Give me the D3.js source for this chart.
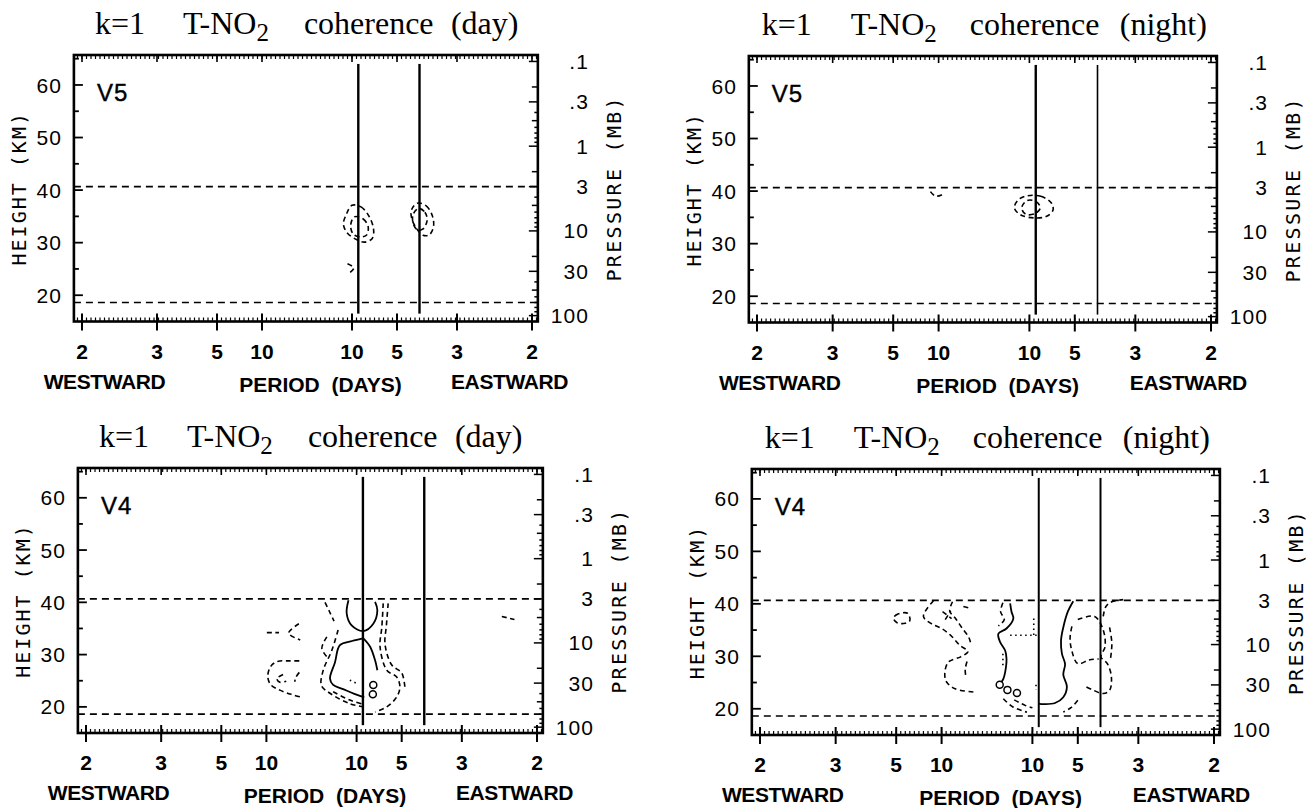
<!DOCTYPE html>
<html>
<head>
<meta charset="utf-8">
<script src="https://cdn.jsdelivr.net/npm/d3@7"></script>
<style>
  body { margin: 0; background: #fff; }
</style>
</head>
<body>
<svg id="chart" width="1314" height="808"></svg>
<script>
// ---- data ----
const heightTicks = [20, 30, 40, 50, 60];
const periodTicks = [-2, -3, -5, -10, 10, 5, 3, 2]; // negative = westward
const pressureTicks = [0.1, 0.3, 1, 3, 10, 30, 100];
const pressureLabels = [".1", ".3", "1", "3", "10", "30", "100"];
const refPressures = [3, 70];          // horizontal dashed lines (mb)
const markFreqs = [0.114, 0.25];       // vertical solid lines (cycles/day)
const titleWords = ["k=1", "T-NO", "2", "coherence"];
const panelTimes = ["day", "night", "day", "night"];
const panelVersions = ["V5", "V5", "V4", "V4"];

// contours, [frequency, height km]
const v5DayLoops = [
  [[0.10,37.1],[0.12,36.8],[0.138,35.0],[0.148,32.5],[0.145,30.8],[0.128,30.1],[0.11,30.6],[0.09,31.8],[0.081,33.5],[0.088,35.5]],
  [[0.105,34.9],[0.125,34.5],[0.136,33.0],[0.132,31.4],[0.118,31.1],[0.103,31.6],[0.097,33.2]],
  [[0.245,37.5],[0.265,37.0],[0.279,35.0],[0.281,33.0],[0.272,31.5],[0.258,31.4],[0.245,32.5],[0.233,34.5],[0.232,36.2]],
  [[0.248,36.5],[0.262,35.8],[0.267,34.3],[0.258,32.6],[0.246,32.4],[0.236,33.6],[0.236,35.4]]
];
const v5DayDashed = [
  [[0.09,26.0],[0.104,25.2],[0.094,24.2]]
];
const v5NightLoops = [
  [[0.095,39.1],[0.125,39.0],[0.148,37.8],[0.152,36.4],[0.138,35.2],[0.11,34.9],[0.08,35.5],[0.067,36.8],[0.075,38.3]],
  [[0.095,38.2],[0.115,38.0],[0.124,36.8],[0.112,35.7],[0.092,35.6],[0.083,36.8]]
];
const v5NightDashed = [
  [[-0.118,39.9],[-0.108,39.1],[-0.095,39.2],[-0.088,39.8]]
];
const v4DaySolid = [
  [[0.082,40.4],[0.078,37.9],[0.089,35.6],[0.115,34.5],[0.137,35.9],[0.146,38.5],[0.141,40.1]],
  [[0.115,33.1],[0.09,32.6],[0.063,31.8],[0.052,28.5],[0.041,25.4],[0.048,24.2],[0.07,23.4],[0.095,22.5],[0.117,21.8]],
  [[0.115,33.1],[0.13,31.5],[0.141,28.9],[0.146,27.0]]
];
const v4DayDashed = [
  [[-0.099,34.2],[-0.072,34.2]],
  [[-0.028,35.9],[-0.051,34.1],[-0.025,32.8]],
  [[-0.027,28.8],[-0.05,28.8],[-0.075,28.7],[-0.09,27.8],[-0.097,25.8],[-0.09,24.2],[-0.07,23.2],[-0.045,22.4],[-0.024,21.9]],
  [[-0.063,26.2],[-0.077,25.4],[-0.07,24.7],[-0.056,24.9]],
  [[-0.027,26.6],[-0.035,25.6],[-0.037,24.8]],
  [[0.03,40.0],[0.04,38.2],[0.05,36.4]],
  [[0.059,34.7],[0.045,30.8],[0.026,27.0],[0.022,24.1],[0.041,22.6],[0.085,20.6],[0.115,20.0]],
  [[0.048,22.9],[0.085,21.3],[0.111,20.6]],
  [[0.034,33.4],[0.023,31.2],[0.037,29.3]],
  [[0.159,39.8],[0.156,35.3],[0.152,31.5],[0.167,27.0],[0.189,25.7],[0.196,23.8],[0.189,21.9],[0.167,20.0],[0.141,19.0]],
  [[0.17,39.8],[0.166,35.5],[0.163,32.0],[0.178,28.0],[0.2,26.5],[0.207,23.8]],
  [[0.422,37.3],[0.45,36.7]]
];
const v4DayDotted = [
  [[0.085,25.1],[0.1,24.5]]
];
const v4DayRings = [[0.137,24.2],[0.136,22.4]];
const v4NightSolid = [
  [[0.051,40.1],[0.054,38.5],[0.058,37.2],[0.043,35.3],[0.025,34.3],[0.029,32.7],[0.04,31.1],[0.043,29.5],[0.04,27.0],[0.036,25.7],[0.032,25.1]],
  [[0.19,40.5],[0.178,38.5],[0.168,35.5],[0.163,33.0],[0.165,30.5],[0.172,28.5],[0.168,26.5],[0.176,24.2],[0.168,22.2],[0.15,21.1],[0.125,20.9],[0.113,21.0]]
];
const v4NightLoops = [
  [[-0.175,38.2],[-0.195,38.1],[-0.206,37.3],[-0.198,36.4],[-0.18,36.3],[-0.17,36.8]]
];
const v4NightDashed = [
  [[-0.118,40.6],[-0.14,37.6],[-0.122,36.2],[-0.1,35.3],[-0.08,34.0],[-0.06,32.1],[-0.042,30.9],[-0.058,29.9],[-0.085,28.9],[-0.093,26.7],[-0.089,25.1],[-0.07,23.8],[-0.03,23.2]],
  [[-0.076,40.4],[-0.082,38.6],[-0.07,37.3],[-0.055,35.4],[-0.04,33.6],[-0.035,32.2]],
  [[-0.044,29.0],[-0.048,27.5],[-0.046,25.8]],
  [[-0.098,38.5],[-0.078,37.2]],
  [[-0.092,37.0],[-0.08,38.6]],
  [[-0.052,39.5],[-0.034,39.1]],
  [[0.035,40.2],[0.03,38.5],[0.038,37.0],[0.025,35.8]],
  [[0.036,21.9],[0.058,20.3],[0.088,19.35]],
  [[0.06,21.7],[0.085,20.6],[0.1,20.2]],
  [[0.2,37.0],[0.237,37.6],[0.256,35.0],[0.26,31.8],[0.251,29.9],[0.265,28.6],[0.274,26.1],[0.27,23.5],[0.256,22.9],[0.235,23.5],[0.218,24.2]],
  [[0.187,35.7],[0.183,33.5],[0.187,31.0],[0.2,28.6],[0.225,29.3],[0.246,29.5]],
  [[0.2,21.6],[0.185,20.2],[0.168,19.4]],
  [[0.256,37.6],[0.262,39.5],[0.275,40.4],[0.3,40.8]],
  [[0.27,35.5],[0.275,32.5],[0.272,29.5]]
];
const v4NightDotted = [
  [[0.051,34.0],[0.11,34.0]],
  [[0.103,37.2],[0.103,33.4]],
  [[0.035,30.5],[0.035,28.0]],
  [[0.108,24.6],[0.108,23.6]]
];
const v4NightRings = [[0.028,24.6],[0.045,23.6],[0.066,23.0]];

// ---- layout ----
const panels = [
  { x0: 82,  x1: 532,  top: 55,  bottom: 321.5, solid: [], loops: v5DayLoops, dashed: v5DayDashed, dotted: [], rings: [], words: [21, 109, 230, 377], lw: [2.4, 2.4] },
  { x0: 757, x1: 1211, top: 56,  bottom: 322.5, solid: [], loops: v5NightLoops, dashed: v5NightDashed, dotted: [], rings: [], words: [13, 102, 221, 371], lw: [2.4, 1.6] },
  { x0: 86,  x1: 537,  top: 468, bottom: 733, solid: v4DaySolid, loops: [], dashed: v4DayDashed, dotted: v4DayDotted, rings: v4DayRings, words: [21, 109, 230, 377], lw: [2.4, 2.4] },
  { x0: 760, x1: 1214, top: 469, bottom: 735, solid: v4NightSolid, loops: v4NightLoops, dashed: v4NightDashed, dotted: v4NightDotted, rings: v4NightRings, words: [13, 102, 221, 371], lw: [2.0, 2.0] }
];

const svg = d3.select("#chart");
const sans = "'Liberation Sans', Arial, sans-serif";
const mono = "'DejaVu Sans Mono', monospace";

panels.forEach(function (p, i) {
  const x = d3.scaleLinear().domain([-0.5, 0.5]).range([p.x0, p.x1]);
  const y = d3.scaleLinear().domain([15, 65.7]).range([p.bottom, p.top]);
  const hOfP = (pr) => 7 * Math.log(1000 / pr);
  const L = x(-0.518), R = x(0.513), T = y(65.7), B = y(15);
  const g = svg.append("g");

  const line = d3.line().x(d => x(d[0])).y(d => y(d[1])).curve(d3.curveCatmullRom.alpha(0.5));
  const loop = d3.line().x(d => x(d[0])).y(d => y(d[1])).curve(d3.curveCatmullRomClosed.alpha(0.5));

  // title
  const tt = g.append("text")
    .attr("y", T - 21)
    .attr("font-family", "'Liberation Serif', 'Times New Roman', serif")
    .attr("font-size", 32);
  tt.append("tspan").attr("x", L + p.words[0]).text(titleWords[0]);
  tt.append("tspan").attr("x", L + p.words[1]).text(titleWords[1]);
  tt.append("tspan").attr("dy", 7).attr("font-size", 25).text(titleWords[2]);
  tt.append("tspan").attr("x", L + p.words[2]).attr("dy", -7).text(titleWords[3]);
  tt.append("tspan").attr("x", L + p.words[3]).text("(" + panelTimes[i] + ")");

  // reference dashed lines
  g.selectAll(".ref").data(refPressures).enter().append("line")
    .attr("x1", L).attr("x2", R)
    .attr("y1", d => y(hOfP(d))).attr("y2", d => y(hOfP(d)))
    .attr("stroke", "#000").attr("stroke-width", 1.6).attr("stroke-dasharray", "7,5");

  // vertical solid lines
  g.selectAll(".mark").data(markFreqs).enter().append("line")
    .attr("x1", d => x(d)).attr("x2", d => x(d))
    .attr("y1", y(64)).attr("y2", y(16.5))
    .attr("stroke", "#000").attr("stroke-width", (d, j) => p.lw[j]);

  // contours
  g.selectAll(".solid").data(p.solid).enter().append("path")
    .attr("d", line).attr("fill", "none").attr("stroke", "#000").attr("stroke-width", 1.8);
  g.selectAll(".loop").data(p.loops).enter().append("path")
    .attr("d", loop).attr("fill", "none").attr("stroke", "#000").attr("stroke-width", 1.6)
    .attr("stroke-dasharray", "5,3.5");
  g.selectAll(".dash").data(p.dashed).enter().append("path")
    .attr("d", line).attr("fill", "none").attr("stroke", "#000").attr("stroke-width", 1.6)
    .attr("stroke-dasharray", "5,3.5");
  g.selectAll(".dot").data(p.dotted).enter().append("path")
    .attr("d", line).attr("fill", "none").attr("stroke", "#000").attr("stroke-width", 1.6)
    .attr("stroke-dasharray", "1.5,3.5");
  g.selectAll(".ring").data(p.rings).enter().append("circle")
    .attr("cx", d => x(d[0])).attr("cy", d => y(d[1])).attr("r", 3.5)
    .attr("fill", "none").attr("stroke", "#000").attr("stroke-width", 1.5);

  // frame
  g.append("rect")
    .attr("x", L).attr("y", T).attr("width", R - L).attr("height", B - T)
    .attr("fill", "none").attr("stroke", "#000").attr("stroke-width", 2.6);

  // frequency minor ticks (top and bottom)
  const minor = d3.range(-51, 52).map(k => k / 100);
  g.selectAll(".tt").data(minor).enter().append("line")
    .attr("x1", d => x(d)).attr("x2", d => x(d))
    .attr("y1", T).attr("y2", T + 4)
    .attr("stroke", "#000").attr("stroke-width", 1.2);
  g.selectAll(".bt").data(minor).enter().append("line")
    .attr("x1", d => x(d)).attr("x2", d => x(d))
    .attr("y1", B).attr("y2", B - 4)
    .attr("stroke", "#000").attr("stroke-width", 1.2);

  // period major ticks + labels
  const fOf = (per) => Math.sign(per) / Math.abs(per);
  g.selectAll(".pt").data(periodTicks).enter().append("line")
    .attr("x1", d => x(fOf(d))).attr("x2", d => x(fOf(d)))
    .attr("y1", B - 8).attr("y2", B + 9)
    .attr("stroke", "#000").attr("stroke-width", 2);
  g.selectAll(".ptop").data(periodTicks).enter().append("line")
    .attr("x1", d => x(fOf(d))).attr("x2", d => x(fOf(d)))
    .attr("y1", T).attr("y2", T + 7)
    .attr("stroke", "#000").attr("stroke-width", 1.6);
  g.selectAll(".pl").data(periodTicks).enter().append("text")
    .attr("x", d => x(fOf(d))).attr("y", B + 37)
    .attr("text-anchor", "middle")
    .attr("font-family", sans).attr("font-weight", "bold").attr("font-size", 21)
    .text(d => Math.abs(d));

  g.append("text").attr("x", x(-0.45)).attr("y", B + 67)
    .attr("text-anchor", "middle").attr("font-family", sans).attr("font-weight", "bold")
    .attr("font-size", 21).attr("letter-spacing", -0.4).text("WESTWARD");
  g.append("text").attr("x", x(0.45)).attr("y", B + 67)
    .attr("text-anchor", "middle").attr("font-family", sans).attr("font-weight", "bold")
    .attr("font-size", 21).attr("letter-spacing", -0.4).text("EASTWARD");
  g.append("text").attr("x", x(0.03)).attr("y", B + 70)
    .attr("text-anchor", "middle").attr("font-family", sans).attr("font-weight", "bold")
    .attr("font-size", 21).attr("xml:space", "preserve")
    .text("PERIOD  (DAYS)");

  // height axis (left)
  const hMinor = d3.range(20, 66, 5);
  g.selectAll(".hm").data(hMinor).enter().append("line")
    .attr("x1", L).attr("x2", d => L + (d % 10 === 0 ? 9 : 5))
    .attr("y1", d => y(d)).attr("y2", d => y(d))
    .attr("stroke", "#000").attr("stroke-width", 1.8);
  g.selectAll(".hl").data(heightTicks).enter().append("text")
    .attr("x", L - 12).attr("y", d => y(d)).attr("dy", "0.36em")
    .attr("text-anchor", "end").attr("font-family", sans).attr("font-size", 21)
    .attr("letter-spacing", 1).text(d => d);

  g.append("text")
    .attr("transform", "translate(" + (L - 55) + "," + ((T + B) / 2) + ") rotate(-90)")
    .attr("text-anchor", "middle").attr("dy", "0.36em")
    .attr("font-family", mono).attr("font-size", 20).attr("letter-spacing", 2)
    .text("HEIGHT (KM)");

  // pressure axis (right)
  const pMinor = [];
  [0.1, 1, 10, 100].forEach(dec => d3.range(1, 10).forEach(m => pMinor.push(m * dec)));
  const pIn = pMinor.filter(d => hOfP(d) <= 65.7 && hOfP(d) >= 15);
  g.selectAll(".prt").data(pIn).enter().append("line")
    .attr("x1", R).attr("x2", d => {
      const m = Math.round(d / Math.pow(10, Math.floor(Math.log10(d) + 1e-9)));
      return R - (m === 1 || m === 3 ? 9 : (m === 2 || m === 5 ? 6 : 3.5));
    })
    .attr("y1", d => y(hOfP(d))).attr("y2", d => y(hOfP(d)))
    .attr("stroke", "#000").attr("stroke-width", 1.5);
  g.selectAll(".prl").data(pressureTicks).enter().append("text")
    .attr("x", R + 51).attr("y", d => y(hOfP(d))).attr("dy", "0.36em")
    .attr("text-anchor", "end").attr("font-family", sans).attr("font-size", 21)
    .attr("letter-spacing", 1).text((d, j) => pressureLabels[j]);

  g.append("text")
    .attr("transform", "translate(" + (R + 76) + "," + ((T + B) / 2) + ") rotate(-90)")
    .attr("text-anchor", "middle").attr("dy", "0.36em")
    .attr("font-family", mono).attr("font-size", 20).attr("letter-spacing", 2.3)
    .text("PRESSURE (MB)");

  // version tag
  g.append("text").attr("x", L + 23).attr("y", T + 46)
    .attr("font-family", sans).attr("font-size", 24).attr("letter-spacing", 1)
    .attr("stroke", "#000").attr("stroke-width", 0.4)
    .text(panelVersions[i]);
});
</script>
</body>
</html>
